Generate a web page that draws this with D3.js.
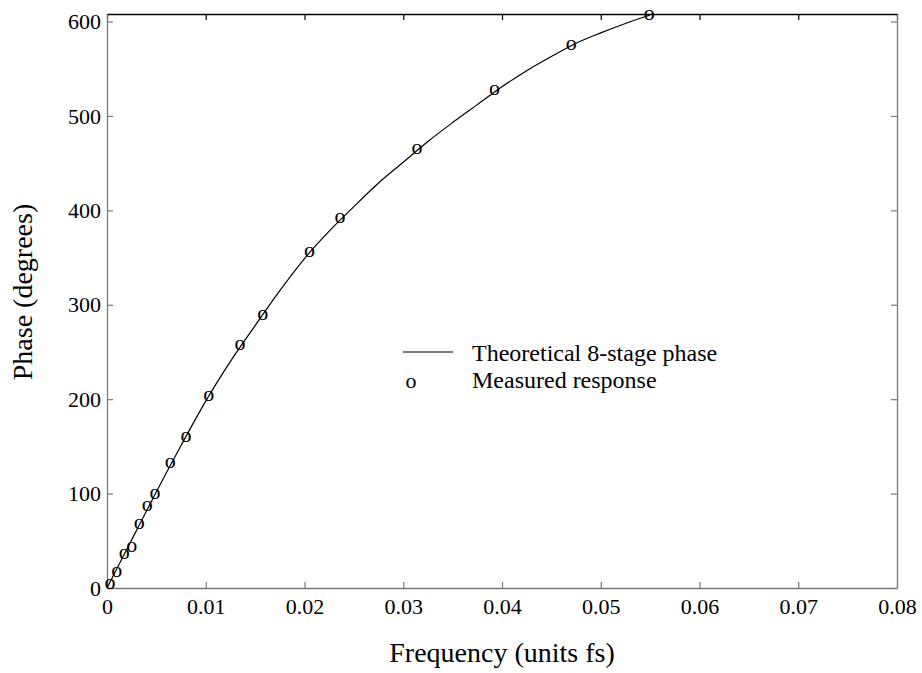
<!DOCTYPE html>
<html>
<head>
<meta charset="utf-8">
<script src="https://cdn.jsdelivr.net/npm/d3@7"></script>
<style>
  body { margin: 0; background: #fff; }
  svg { display: block; font-family: "Liberation Serif", "Times New Roman", serif; }
</style>
</head>
<body>
<svg id="chart" width="922" height="673"></svg>
<script>
// measured phase response (frequency in units of fs, phase in degrees)
var measuredFreq = [0.0003, 0.00098, 0.00175, 0.0025, 0.00327, 0.00408, 0.00486, 0.0064,
    0.0080, 0.0103, 0.01347, 0.01577, 0.0205, 0.0236, 0.03138, 0.03924, 0.04701, 0.05491];
var measuredPhase = [4.7, 17, 36.4, 43.4, 68.2, 86.9, 99.3, 132.4,
    160, 203.4, 257, 289, 356, 392.4, 465, 528, 575, 607];

// theoretical 8-stage phase curve
var lineFreq = [0, 0.0025, 0.005, 0.0075, 0.01, 0.0125, 0.015, 0.0175, 0.02, 0.0225, 0.025,
    0.0275, 0.03, 0.0325, 0.035, 0.0375, 0.04, 0.0425, 0.045, 0.0475, 0.05, 0.0525, 0.055];
var linePhase = [0, 51, 102, 151, 198, 240, 278, 315, 349, 378, 404,
    429, 451, 473, 493, 512, 531, 548, 563, 577, 588, 598, 607];

var xTicks = [0, 0.01, 0.02, 0.03, 0.04, 0.05, 0.06, 0.07, 0.08],
    yTicks = [0, 100, 200, 300, 400, 500, 600];

var legendLabels = ["Theoretical 8-stage phase", "Measured response"];

// plot box (note: "top" is taken by window.top, so use explicit names)
var plotLeft = 107, plotRight = 897, plotTop = 14, plotBottom = 588,
    axisGray = "#7a7a7a";

var svg = d3.select("#chart");

var x = d3.scaleLinear().domain([0, 0.08]).range([plotLeft, plotRight]),
    y = d3.scaleLinear().domain([0, 608]).range([plotBottom, plotTop]);

function styleAxis(g, color) {
  g.attr("font-family", null).attr("font-size", 22);
  g.select(".domain").attr("stroke", color).attr("stroke-width", 1.3);
  g.selectAll(".tick line").attr("stroke", color).attr("stroke-width", 1.2);
  g.selectAll(".tick text").attr("fill", "#000");
}

// frame: top and right carry ticks but no labels, ticks point inward
svg.append("g")
    .attr("transform", "translate(0," + plotTop + ")")
    .call(d3.axisTop(x).tickValues(xTicks).tickSize(-6).tickSizeOuter(0).tickFormat(""))
    .call(styleAxis, "#000");

svg.append("g")
    .attr("transform", "translate(" + plotRight + ",0)")
    .call(d3.axisRight(y).tickValues(yTicks).tickSize(-6).tickSizeOuter(0).tickFormat(""))
    .call(styleAxis, axisGray);

svg.append("g")
    .attr("transform", "translate(0," + plotBottom + ")")
    .call(d3.axisBottom(x).tickValues(xTicks).tickSize(-6).tickSizeOuter(0).tickPadding(10)
        .tickFormat(function(d) { return d === 0 ? "0" : d.toFixed(2); }))
    .call(styleAxis, axisGray);

svg.append("g")
    .attr("transform", "translate(" + plotLeft + ",0)")
    .call(d3.axisLeft(y).tickValues(yTicks).tickSize(-6).tickSizeOuter(0).tickPadding(6))
    .call(styleAxis, axisGray);

// axis titles
svg.append("text")
    .attr("x", (plotLeft + plotRight) / 2)
    .attr("y", 662)
    .attr("text-anchor", "middle")
    .attr("font-size", 28)
    .text("Frequency (units fs)");

svg.append("text")
    .attr("transform", "translate(32,292) rotate(-90)")
    .attr("text-anchor", "middle")
    .attr("font-size", 28)
    .text("Phase (degrees)");

// theoretical curve
var line = d3.line()
    .x(function(d) { return x(d[0]); })
    .y(function(d) { return y(d[1]); })
    .curve(d3.curveMonotoneX);

svg.append("path")
    .datum(d3.zip(lineFreq, linePhase))
    .attr("fill", "none")
    .attr("stroke", "#000")
    .attr("stroke-width", 1.2)
    .attr("d", line);

// measured points are drawn as "o" glyphs, centred on the value
svg.append("g").selectAll("text")
    .data(d3.zip(measuredFreq, measuredPhase))
  .enter().append("text")
    .attr("x", function(d) { return x(d[0]); })
    .attr("y", function(d) { return y(d[1]); })
    .attr("dy", "0.23em")
    .attr("text-anchor", "middle")
    .attr("font-size", 22)
    .text("o");

// legend
var legend = svg.append("g");

legend.append("line")
    .attr("x1", 403).attr("x2", 453)
    .attr("y1", 352).attr("y2", 352)
    .attr("stroke", "#000")
    .attr("stroke-width", 1.2);

legend.append("text")
    .attr("x", 411)
    .attr("y", 388)
    .attr("text-anchor", "middle")
    .attr("font-size", 22)
    .text("o");

legend.selectAll("text.label")
    .data(legendLabels)
  .enter().append("text")
    .attr("class", "label")
    .attr("x", 472)
    .attr("y", function(d, i) { return 361 + i * 27; })
    .attr("font-size", 24)
    .text(function(d) { return d; });
</script>
</body>
</html>
